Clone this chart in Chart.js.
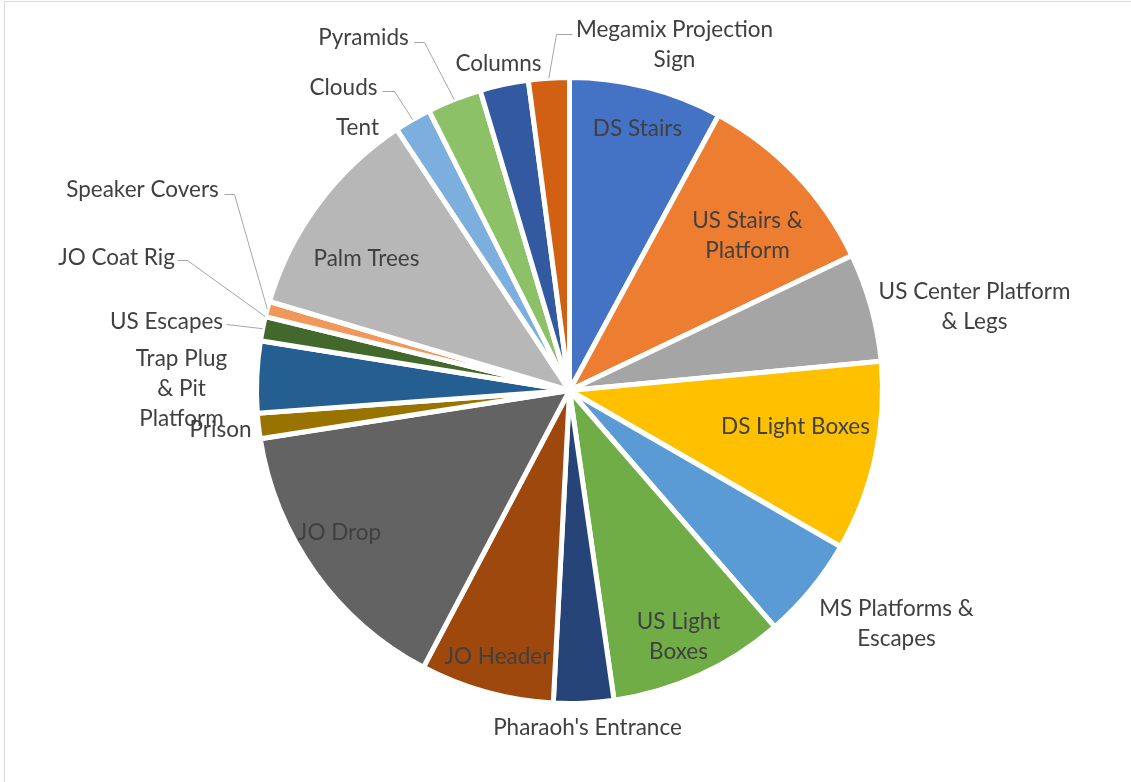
<!DOCTYPE html>
<html lang="en">
<head>
<meta charset="UTF-8">
<title>Set Pieces</title>
<script src="https://cdn.jsdelivr.net/npm/chart.js"></script>
<style>
    html, body { margin: 0; padding: 0; background: #fff; overflow: hidden; }
    #wrap { position: relative; width: 1131px; height: 782px; }
    #frame { position: absolute; left: 4px; top: 1px; width: 1200px; height: 900px; border: 1px solid #d9d9d9; box-sizing: border-box; pointer-events: none; }
</style>
</head>
<body>
<div id="wrap">
    <canvas id="pieChart" width="1131" height="782"></canvas>
    <div id="frame"></div>
</div>
<script>
    // slices, clockwise from 12 o'clock
    const labels = [
        'DS Stairs', 'US Stairs & Platform', 'US Center Platform & Legs', 'DS Light Boxes',
        'MS Platforms & Escapes', 'US Light Boxes', "Pharaoh's Entrance", 'JO Header', 'JO Drop',
        'Prison', 'Trap Plug & Pit Platform', 'US Escapes', 'JO Coat Rig', 'Speaker Covers',
        'Palm Trees', 'Tent', 'Clouds', 'Pyramids', 'Columns', 'Megamix Projection Sign'
    ];
    // share of total (%)
    const values = [7.9, 10.0, 5.6, 9.8, 5.3, 9.1, 3.1, 6.9, 14.8, 1.3, 3.7, 1.25, 0, 0.8, 11.1, 0, 1.9, 2.8, 2.5, 2.1];
    const colors = [
        '#4472C4', '#ED7D31', '#A5A5A5', '#FFC000', '#5B9BD5', '#70AD47', '#264478', '#9E480E', '#636363',
        '#997300', '#255E91', '#43682B', '#698ED0', '#F1975A', '#B7B7B7', '#FFCD33', '#7CAFDD', '#8CC168',
        '#335AA1', '#D26012'
    ];

    // label text lines, placement (drawn for a pie centred at 570,391) and leader line points
    const DESIGN_CX = 570, DESIGN_CY = 391;
    const labelLayout = {
        'DS Stairs':                 { lines: ['DS Stairs'], x: 638, y: 127 },
        'US Stairs & Platform':      { lines: ['US Stairs &', 'Platform'], x: 748, y: 234 },
        'US Center Platform & Legs': { lines: ['US Center Platform', '& Legs'], x: 975, y: 305 },
        'DS Light Boxes':            { lines: ['DS Light Boxes'], x: 796, y: 425 },
        'MS Platforms & Escapes':    { lines: ['MS Platforms &', 'Escapes'], x: 897, y: 622 },
        'US Light Boxes':            { lines: ['US Light', 'Boxes'], x: 679, y: 635 },
        "Pharaoh's Entrance":        { lines: ["Pharaoh's Entrance"], x: 588, y: 726 },
        'JO Header':                 { lines: ['JO Header'], x: 498, y: 655 },
        'JO Drop':                   { lines: ['JO Drop'], x: 340, y: 531 },
        'Prison':                    { lines: ['Prison'], x: 221, y: 428 },
        'Trap Plug & Pit Platform':  { lines: ['Trap Plug', '& Pit', 'Platform'], x: 182, y: 387 },
        'US Escapes':                { lines: ['US Escapes'], x: 167, y: 320, leader: [[227, 325]] },
        'JO Coat Rig':               { lines: ['JO Coat Rig'], x: 117, y: 256, leader: [[178, 261], [188, 261]] },
        'Speaker Covers':            { lines: ['Speaker Covers'], x: 143, y: 188, leader: [[225, 195], [235, 195]] },
        'Palm Trees':                { lines: ['Palm Trees'], x: 367, y: 257 },
        'Tent':                      { lines: ['Tent'], x: 358, y: 126 },
        'Clouds':                    { lines: ['Clouds'], x: 344, y: 86, leader: [[383, 92], [395, 92]] },
        'Pyramids':                  { lines: ['Pyramids'], x: 364, y: 36, leader: [[415, 43], [425, 43]] },
        'Columns':                   { lines: ['Columns'], x: 499, y: 62 },
        'Megamix Projection Sign':   { lines: ['Megamix Projection', 'Sign'], x: 675, y: 43, leader: [[573, 35], [557, 35]] }
    };

    const labelPlugin = {
        id: 'pieLabels',
        afterDatasetsDraw(chart) {
            const ctx = chart.ctx;
            const meta = chart.getDatasetMeta(0);
            ctx.save();
            meta.data.forEach((arc, i) => {
                const p = arc.getProps(['x', 'y', 'startAngle', 'endAngle', 'outerRadius'], true);
                const dx = p.x - DESIGN_CX, dy = p.y - DESIGN_CY;
                const lay = labelLayout[labels[i]];
                if (!lay) return;

                // leader line ends on the slice edge at its mid angle
                if (lay.leader) {
                    const mid = (p.startAngle + p.endAngle) / 2;
                    ctx.strokeStyle = '#A6A6A6';
                    ctx.lineWidth = 1;
                    ctx.beginPath();
                    lay.leader.forEach((pt, k) => {
                        if (k === 0) ctx.moveTo(pt[0] + dx, pt[1] + dy);
                        else ctx.lineTo(pt[0] + dx, pt[1] + dy);
                    });
                    ctx.lineTo(p.x + Math.cos(mid) * p.outerRadius, p.y + Math.sin(mid) * p.outerRadius);
                    ctx.stroke();
                }

                ctx.fillStyle = '#404040';
                ctx.font = '22.5px Lato';
                ctx.textAlign = 'center';
                ctx.textBaseline = 'middle';
                const lh = 30;
                const top = lay.y + dy + 2 - (lay.lines.length - 1) * lh / 2;
                lay.lines.forEach((t, k) => ctx.fillText(t, lay.x + dx, top + k * lh));
            });
            ctx.restore();
        }
    };

    const ctx = document.getElementById('pieChart').getContext('2d');
    new Chart(ctx, {
        type: 'pie',
        data: {
            labels: labels,
            datasets: [{
                data: values,
                backgroundColor: colors,
                borderColor: '#ffffff',
                borderWidth: 5,
                hoverBorderWidth: 5,
                hoverOffset: 0
            }]
        },
        options: {
            responsive: false,
            animation: false,
            events: [],
            layout: { padding: { left: 254, right: 246, top: 75, bottom: 76 } },
            plugins: {
                legend: { display: false },
                tooltip: { enabled: false }
            }
        },
        plugins: [labelPlugin]
    });
</script>
</body>
</html>
